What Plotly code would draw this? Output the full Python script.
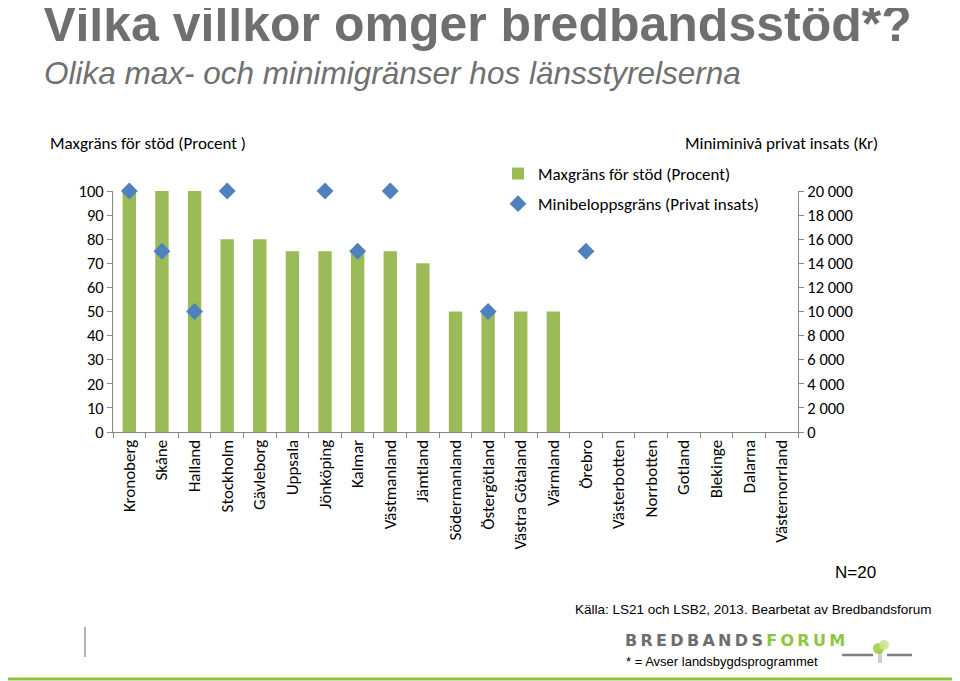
import plotly.graph_objects as go

regions = ["Kronoberg", "Skåne", "Halland", "Stockholm", "Gävleborg", "Uppsala",
           "Jönköping", "Kalmar", "Västmanland", "Jämtland", "Södermanland",
           "Östergötland", "Västra Götaland", "Värmland", "Örebro", "Västerbotten",
           "Norrbotten", "Gotland", "Blekinge", "Dalarna", "Västernorrland"]
max_pct = [100, 100, 100, 80, 80, 75, 75, 75, 75, 70, 50, 50, 50, 50,
           None, None, None, None, None, None, None]
min_insats = [20000, 15000, 10000, 20000, None, None, 20000, 15000, 20000, None, None,
              10000, None, None, 15000, None, None, None, None, None, None]
left_ticks = [0, 10, 20, 30, 40, 50, 60, 70, 80, 90, 100]
right_ticks = [0, 2000, 4000, 6000, 8000, 10000, 12000, 14000, 16000, 18000, 20000]
right_labels = ["0", "2 000", "4 000", "6 000", "8 000", "10 000", "12 000",
                "14 000", "16 000", "18 000", "20 000"]

OFF = 8  # page body margin
W, H = 960 - OFF, 681 - OFF
L, R, T, B = 113, 798, 191, 432  # plot area in window pixels
CAL = "Carlito, Lato, Calibri, sans-serif"
ARI = "Liberation Sans, Arial, sans-serif"
GREEN = "#9bbb59"
BLUE = "#4f81bd"


def px(x):
    return (x - L) / (R - L)


def py(y):
    return (B - y) / (B - T)


fig = go.Figure()
fig.add_trace(go.Bar(x=regions, y=max_pct, name="Maxgräns för stöd (Procent)",
                     marker=dict(color=GREEN, line=dict(width=0)),
                     legendgroup="a"))
fig.add_trace(go.Scatter(x=regions, y=min_insats, yaxis="y2", mode="markers",
                         name="Minibeloppsgräns (Privat insats)",
                         marker=dict(symbol="diamond", size=13, color=BLUE),
                         cliponaxis=False, legendgroup="b"))

axis_line = dict(showline=True, linecolor="#868686", linewidth=1,
                 ticks="outside", ticklen=5, tickcolor="#868686",
                 showgrid=False, zeroline=False)

fig.update_layout(
    width=W, height=H,
    margin=dict(l=L - OFF, r=W - (R - OFF), t=T - OFF, b=H - (B - OFF)),
    paper_bgcolor="white", plot_bgcolor="white",
    bargap=0.59,
    showlegend=True,
    legend=dict(x=px(498), y=py(156), xanchor="left", yanchor="top",
                font=dict(family=CAL, size=17, color="#000000"),
                tracegroupgap=5, bgcolor="rgba(0,0,0,0)"),
    xaxis=dict(**axis_line, tickangle=-90, tickson="boundaries",
               tickfont=dict(family=CAL, size=17, color="#000000"),
               range=[-0.5, 20.5]),
    yaxis=dict(**axis_line, range=[0, 100], tickvals=left_ticks,
               tickfont=dict(family=CAL, size=16.5, color="#000000")),
    yaxis2=dict(**axis_line, overlaying="y", side="right", range=[0, 20000],
                tickvals=right_ticks, ticktext=right_labels,
                tickfont=dict(family=CAL, size=16.5, color="#000000")),
)

ann = [
    dict(text="<b>Vilka villkor omger bredbandsstöd*?</b>", x=px(41), y=py(24),
         font=dict(family=ARI, size=50, color="#6f6f6f"), xanchor="left", yanchor="middle"),
    dict(text="<i>Olika max- och minimigränser hos länsstyrelserna</i>", x=px(42), y=py(73),
         font=dict(family=ARI, size=31.5, color="#707070"), xanchor="left", yanchor="middle"),
    dict(text="Maxgräns för stöd (Procent )", x=px(48), y=py(143),
         font=dict(family=CAL, size=17, color="#000000"), xanchor="left", yanchor="middle"),
    dict(text="Miniminivå privat insats (Kr)", x=px(880), y=py(143),
         font=dict(family=CAL, size=17, color="#000000"), xanchor="right", yanchor="middle"),
    dict(text="N=20", x=px(878), y=py(572),
         font=dict(family=ARI, size=17, color="#000000"), xanchor="right", yanchor="middle"),
    dict(text="Källa: LS21 och LSB2, 2013. Bearbetat av Bredbandsforum", x=px(933), y=py(609),
         font=dict(family=ARI, size=13.5, color="#000000"), xanchor="right", yanchor="middle"),
    dict(text="<span style='color:#6d6d6d;letter-spacing:3.3px'>BREDBANDS</span>"
              "<span style='color:#8dc63f;letter-spacing:3.3px'>FORUM</span>",
         x=px(736), y=py(640),
         font=dict(family="DejaVu Sans, sans-serif", size=16, color="#6d6d6d", weight="bold"),
         xanchor="center", yanchor="middle"),
    dict(text="* = Avser landsbygdsprogrammet", x=px(624), y=py(661),
         font=dict(family=ARI, size=13, color="#000000"), xanchor="left", yanchor="middle"),
]
for a in ann:
    a.update(xref="paper", yref="paper", showarrow=False)
fig.update_layout(annotations=ann)

shapes = [
    dict(type="line", x0=px(OFF), x1=px(960), y0=py(679), y1=py(679),
         line=dict(color="#8dc63f", width=3)),
    dict(type="line", x0=px(85), x1=px(85), y0=py(627), y1=py(657),
         line=dict(color="#9a9a9a", width=1.5)),
    dict(type="line", x0=px(842), x1=px(873), y0=py(655), y1=py(655),
         line=dict(color="#7f7f7f", width=2.5)),
    dict(type="line", x0=px(887), x1=px(912), y0=py(655), y1=py(655),
         line=dict(color="#7f7f7f", width=2.5)),
    dict(type="line", x0=px(880), x1=px(880), y0=py(650), y1=py(663),
         line=dict(color="#cfcfcf", width=4)),
    dict(type="circle", x0=px(873), x1=px(884), y0=py(643), y1=py(654),
         fillcolor="#9acd32", line=dict(width=0), opacity=0.85),
    dict(type="circle", x0=px(879), x1=px(889), y0=py(640), y1=py(650),
         fillcolor="#c8e28c", line=dict(width=0), opacity=0.85),
]
for s in shapes:
    s.update(xref="paper", yref="paper")
fig.update_layout(shapes=shapes)

fig.write_html("out.html")
